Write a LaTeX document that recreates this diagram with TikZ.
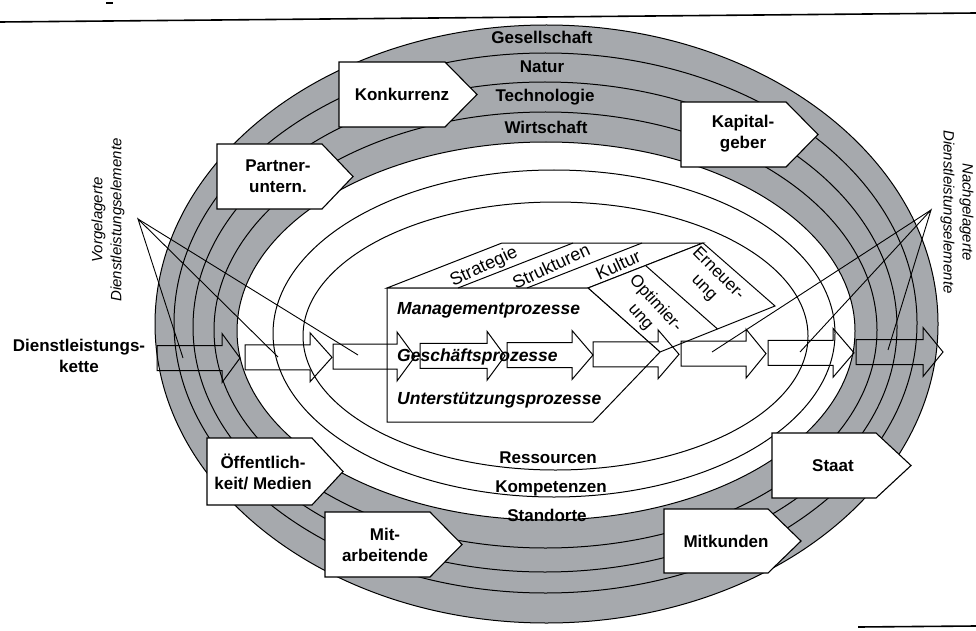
\documentclass[tikz,border=0pt]{standalone}
\usepackage{fontspec}
\setmainfont{Liberation Sans}
\definecolor{ringgray}{RGB}{166,169,173}
\newcommand\chainarr[4]{\draw[chain] (#1,#4-12.5) -- (#2,#4-12.5) -- (#2,#4-24.5) -- (#3,#4) -- (#2,#4+24.5) -- (#2,#4+12.5) -- (#1,#4+12.5) -- cycle;}
\begin{document}
\begin{tikzpicture}[x=1pt,y=-1pt,
  ringline/.style={line width=1pt},
  pent/.style={draw,fill=white,line width=1.1pt,line join=miter},
  chain/.style={draw,line width=1pt,line join=miter},
  face/.style={draw,fill=white,line width=1pt,line join=miter},
  ptr/.style={line width=0.9pt},
  rule/.style={line width=1.6pt},
  lbl/.style={font=\fontsize{17}{21}\selectfont\bfseries,align=center,inner sep=0pt},
  proc/.style={font=\fontsize{17.5}{21}\selectfont\bfseries\itshape,anchor=west,inner sep=0pt},
  dim/.style={font=\fontsize{18}{22}\selectfont,align=center,inner sep=0pt},
  sdim/.style={font=\fontsize{17}{20}\selectfont,align=center,inner sep=0pt},
  sidelbl/.style={font=\fontsize{15}{19}\selectfont\itshape,align=center,inner sep=0pt}]

\useasboundingbox (0,0) rectangle (976,631);
\fill[white] (0,0) rectangle (976,631);

% frame rules
\draw[rule] (0,22) -- (976,13);
\draw[rule] (858,627) -- (976,626);
\draw[line width=1.5pt] (106,3) -- (113,3);

% rings
\filldraw[fill=ringgray,ringline] (546.5,324) ellipse [x radius=391.5pt,y radius=299pt];
\filldraw[fill=white,ringline] (546,331) ellipse [x radius=309pt,y radius=189pt];
\draw[ringline] (545.5,323) ellipse [x radius=371.5pt,y radius=270pt];
\draw[ringline] (545,327) ellipse [x radius=352pt,y radius=245pt];
\draw[ringline] (545.5,330) ellipse [x radius=331.5pt,y radius=218pt];
\draw[ringline] (554,333.5) ellipse [x radius=281pt,y radius=163.5pt];
\draw[ringline] (555.5,336) ellipse [x radius=252.5pt,y radius=134pt];

% 3D process block
\filldraw[face] (387,288) -- (502,243) -- (703,243) -- (588,288) -- cycle;
\filldraw[face] (588,288) -- (703,243) -- (775,306) -- (660,352) -- cycle;
\filldraw[face] (387,288) -- (588,288) -- (660,352) -- (593,422) -- (387,422) -- cycle;
\draw[ringline] (458,288) -- (573,243);
\draw[ringline] (527,288) -- (642,243);
\draw[ringline] (645.5,265.5) -- (717.5,329);

\node[dim,rotate=25] (strat) at (484,267) {Strategie};
\node[dim,rotate=25] (strukt) at (551,266) {Strukturen};
\node[dim,rotate=25] (kult) at (618,265) {Kultur};
\node[sdim,rotate=-48] (opt) at (648,310) {Optimier-\\ung};
\node[sdim,rotate=-45] (ern) at (711,281) {Erneuer-\\ung};

\node[proc] (mgmt) at (397,310) {Managementprozesse};
\node[proc] (gesch) at (397,357) {Geschäftsprozesse};
\node[proc] (unter) at (397,400) {Unterstützungsprozesse};

% service chain arrows
\chainarr{157}{222}{240}{358}
\chainarr{245}{310}{332}{357.3}
\chainarr{333}{397}{415}{356.5}
\chainarr{420}{487}{505}{355.8}
\chainarr{507}{572}{593}{355}
\chainarr{593}{658}{679}{354.3}
\chainarr{681}{746}{766}{353.6}
\chainarr{768}{833}{854}{352.8}
\chainarr{856}{923}{943}{352}

% pointer lines
\coordinate (lapex) at (138,219);
\coordinate (l1) at (183,358);
\coordinate (l2) at (278,357);
\coordinate (l3) at (358,355);
\coordinate (rapex) at (931,210);
\coordinate (r1) at (888,350);
\coordinate (r2) at (800,352);
\coordinate (r3) at (712,352);
\draw[ptr] (l1) -- (lapex) -- (l2);
\draw[ptr] (lapex) -- (l3);
\draw[ptr] (r1) -- (rapex) -- (r2);
\draw[ptr] (rapex) -- (r3);

% stakeholder boxes
\draw[pent] (339,62) -- (445,62) -- (477,94.5) -- (445,127) -- (339,127) -- cycle;
\node[lbl] (konk) at (402,94) {Konkurrenz};
\draw[pent] (217,144) -- (322,144) -- (353,176.5) -- (322,209) -- (217,209) -- cycle;
\node[lbl] (partner) at (278,176) {Partner-\\untern.};
\draw[pent] (681,102) -- (786,102) -- (818,134.5) -- (786,167) -- (681,167) -- cycle;
\node[lbl] (kapital) at (743,134) {Kapital-\\geber};
\draw[pent] (207,438) -- (312,438) -- (343,471.5) -- (312,505) -- (207,505) -- cycle;
\node[lbl] (oeff) at (263,472) {Öffentlich-\\keit/ Medien};
\draw[pent] (325,512) -- (430,512) -- (462,544.5) -- (430,577) -- (325,577) -- cycle;
\node[lbl] (mitarb) at (385,545) {Mit-\\arbeitende};
\draw[pent] (772,433) -- (876,433) -- (911,465.5) -- (876,498) -- (772,498) -- cycle;
\node[lbl] (staat) at (833,466) {Staat};
\draw[pent] (664,509) -- (768,509) -- (801,541) -- (768,573) -- (664,573) -- cycle;
\node[lbl] (mitk) at (726,541) {Mitkunden};

% ring labels
\node[lbl] (ges) at (542,37) {Gesellschaft};
\node[lbl] (nat) at (542,67) {Natur};
\node[lbl] (tech) at (545,97) {Technologie};
\node[lbl] (wirt) at (546,127) {Wirtschaft};
\node[lbl] (res) at (548,458) {Ressourcen};
\node[lbl] (komp) at (551,488) {Kompetenzen};
\node[lbl] (stand) at (547,515) {Standorte};

% side labels
\node[lbl] (dk) at (79,356) {Dienstleistungs-\\kette};
\node[sidelbl,rotate=90] (vor) at (108,220) {Vorgelagerte\\Dienstleistungselemente};
\node[sidelbl,rotate=-90] (nach) at (957,212) {Nachgelagerte\\Dienstleistungselemente};
\end{tikzpicture}
\end{document}
